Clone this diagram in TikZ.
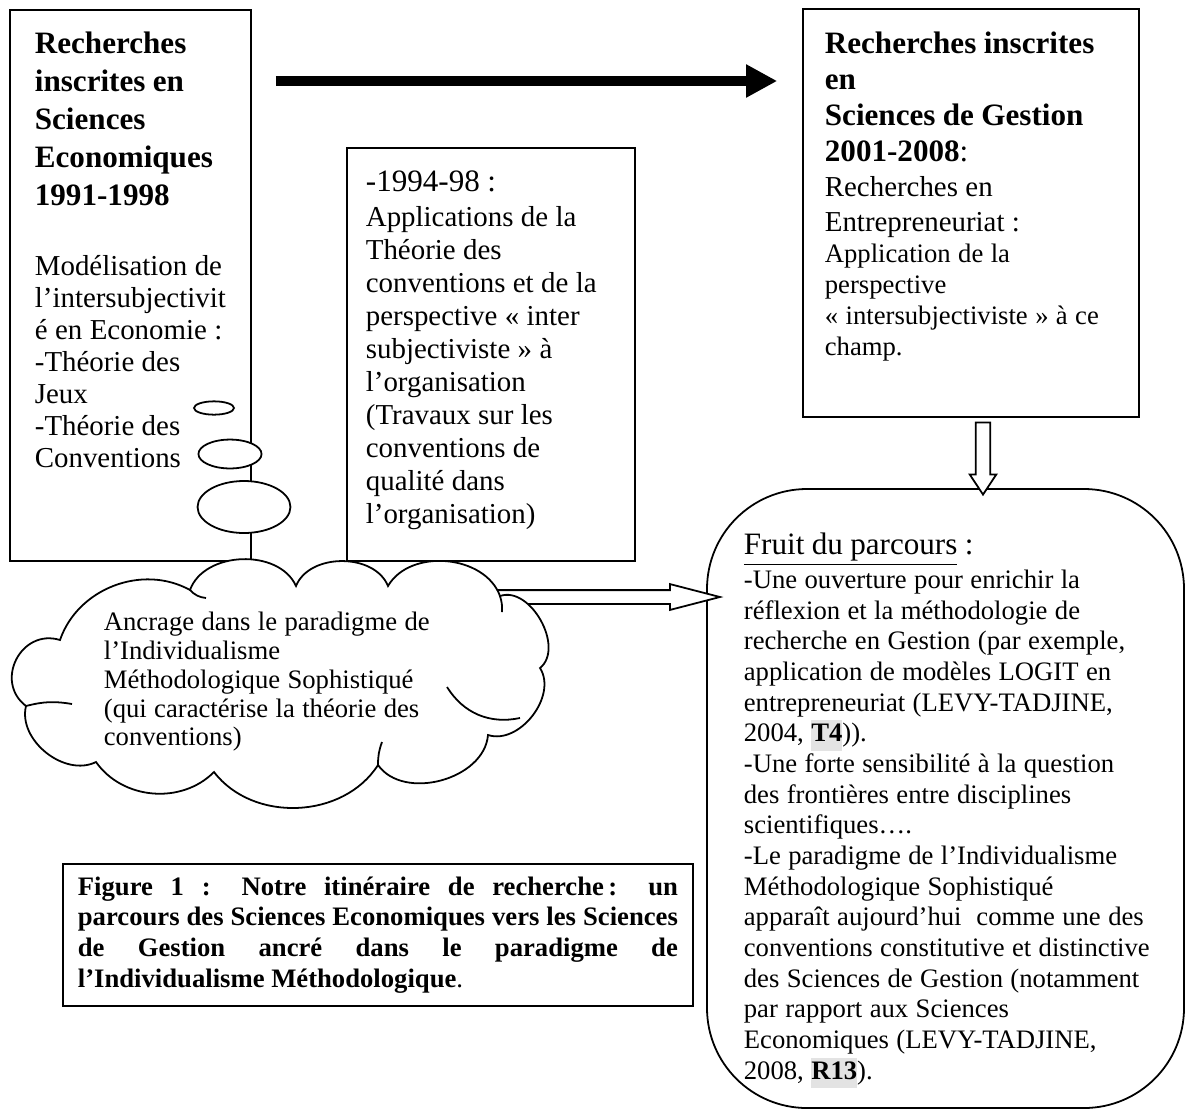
\documentclass[tikz,border=0pt]{standalone}
\usepackage{fontspec}
\setmainfont{Liberation Serif}
\usepackage{tikz}
\usetikzlibrary{positioning,fit,calc,arrows.meta,shapes.geometric,shapes.arrows}
\definecolor{hlgray}{HTML}{E3E3E3}
\newcommand{\refhl}[1]{{\setlength{\fboxsep}{0pt}\colorbox{hlgray}{\strut\textbf{#1}}}}

\begin{document}
\begin{tikzpicture}[x=0.45pt,y=-0.45pt,line width=0.8pt,
    boxline/.style={draw,inner sep=0pt},
    txt/.style={inner sep=0pt,align=left,text width=200pt},
    bubble/.style={ellipse,draw,fill=white,inner sep=0pt},
    hollow/.style={single arrow,draw,fill=white,inner xsep=0pt},
    bigarrow/.style={line width=4.5pt,-{Triangle[length=14pt,width=14pt]}}]

  \useasboundingbox (0,0) rectangle (1186,1111);

  % BOXES
  \node[boxline,fit={(10,10) (251,561)}] (econ) {};
  \node[boxline,fit={(347,148) (635,561)}] (conv) {};
  \node[boxline,fit={(803,9) (1139,417)}] (gestion) {};
  \node[boxline,rounded corners=45pt,fit={(707,489) (1184,1108)}] (fruit) {};

  % ARROWS
  \coordinate (flechey) at (0,81);
  \draw[bigarrow,shorten <=10.8pt,shorten >=11.2pt] (econ.east |- flechey) -- (gestion.west |- flechey);

  \node[hollow,rotate=-90,minimum height=32.4pt,inner ysep=2.9pt,
        single arrow head extend=2.7pt,single arrow tip angle=67]
        (versfruit) at ($(gestion.south)!0.5!(gestion.south |- fruit.north)+(12,0)$) {};

  \coordinate (ancragefin) at (470,597);
  \node[hollow,minimum height=106.7pt,inner ysep=2.7pt,
        single arrow head extend=2.7pt,single arrow tip angle=29]
        (versfruitb) at ($(ancragefin)!0.5!(fruit.west |- ancragefin)$) {};

  % BUBBLES
  \node[bubble,minimum width=18pt,minimum height=6pt] (bulle1) at (214,408) {};
  \node[bubble,minimum width=28.4pt,minimum height=13pt] (bulle2) at (230,454) {};
  \node[bubble,minimum width=41.8pt,minimum height=23.4pt] (bulle3) at (244,507) {};

  % CLOUD
  \draw[fill=white] (60,640) to[bend left=50] (190,590) to[bend left=68] (296,586)
    to[bend left=68] (388,586) to[bend left=65] (500,596) to[bend left=80] (540,668)
    to[bend left=70] (488,735) to[bend left=70] (378,765) to[bend left=55] (214,772)
    to[bend left=50] (96,762) to[bend left=65] (26,706) to[bend left=80,looseness=1.4] cycle;
  \draw (190,590) to[bend right=20] (206,598);
  \draw (26,706) to[bend left=12] (72,704);
  \draw (447,687) to[bend right=35] (520,718);
  \draw (378,765) to[bend left=10] (382,742);
  \draw (500,596) to[bend left=10] (502,612);

  % TEXTS
  \node[txt,anchor=north west] (econtxt) at (34,31) {\fontsize{14}{17.1}\selectfont\bfseries
    Recherches\\inscrites en\\Sciences\\Economiques\\1991-1998\par
    \fontsize{13}{14.4}\selectfont\mdseries\vspace{17pt}
    Modélisation de\\l’intersubjectivit\\é en Economie :\\-Théorie des\\Jeux\\-Théorie des\\Conventions\par};

  \node[txt,anchor=north west] (convtxt) at (365,170) {\fontsize{14}{16}\selectfont
    -1994-98 :\par
    \fontsize{13}{14.85}\selectfont\vspace{1pt}
    Applications de la\\Théorie des\\conventions et de la\\perspective « inter\\subjectiviste » à\\l’organisation\\(Travaux sur les\\conventions de\\qualité dans\\l’organisation)\par};

  \node[txt,anchor=north west] (gesttxt) at (824,31) {\fontsize{14}{16.2}\selectfont\bfseries
    Recherches inscrites\\en\\Sciences de Gestion\\2001-2008\mdseries:\par
    \fontsize{13}{15.8}\selectfont
    Recherches en\\Entrepreneuriat :\par
    \fontsize{12}{13.9}\selectfont
    Application de la\\perspective\\« intersubjectiviste » à ce\\champ.\par};

  \node[txt,anchor=north west] (fruittxt) at (743,532) {\fontsize{14}{16}\selectfont
    \underline{Fruit du parcours} :\par
    \fontsize{12}{13.8}\selectfont\vspace{1.5pt}
    -Une ouverture pour enrichir la\\réflexion et la méthodologie de\\recherche en Gestion (par exemple,\\application de modèles LOGIT en\\entrepreneuriat (LEVY-TADJINE,\\2004, \refhl{T4})).\\
    -Une forte sensibilité à la question\\des frontières entre disciplines\\scientifiques….\\
    -Le paradigme de l’Individualisme\\Méthodologique Sophistiqué\\apparaît aujourd’hui\ \ comme une des\\conventions constitutive et distinctive\\des Sciences de Gestion (notamment\\par rapport aux Sciences\\Economiques (LEVY-TADJINE,\\2008, \refhl{R13}).\par};

  \node[txt,anchor=north west] (ancragetxt) at (103,611) {\fontsize{12}{13}\selectfont
    Ancrage dans le paradigme de\\l’Individualisme\\Méthodologique Sophistiqué\\(qui caractérise la théorie des\\conventions)\par};

  % CAPTION
  \node[draw,anchor=north west,text width=270pt,align=justify,inner xsep=6.75pt,inner ysep=5.8pt,
        font=\fontsize{12}{13.8}\selectfont] (legende) at (62,863)
    {\textbf{Figure 1 : Notre itinéraire de recherche\,: un\linebreak
     parcours des Sciences Economiques vers les Sciences\linebreak
     de Gestion ancré dans le paradigme de\linebreak
     l’Individualisme Méthodologique}.\par};
\end{tikzpicture}
\end{document}
